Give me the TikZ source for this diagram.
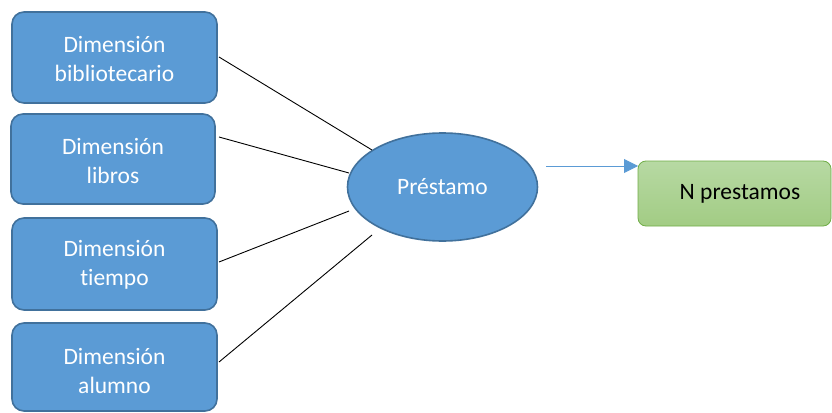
\documentclass[tikz,border=0pt]{standalone}
\usepackage{fontspec}
\setmainfont[Ligatures=NoCommon]{Carlito}
\usetikzlibrary{shapes.geometric,arrows.meta}
\definecolor{dimfill}{HTML}{5B9BD5}
\definecolor{dimline}{HTML}{41719C}
\definecolor{grtop}{HTML}{B7D9A3}
\definecolor{grbot}{HTML}{A2CC84}
\definecolor{grline}{HTML}{70AD47}
\begin{document}
\begin{tikzpicture}[x=1pt,y=-1pt,
  dimbox/.style={draw=dimline,line width=1.6pt,fill=dimfill,rounded corners=12pt},
  dimtext/.style={text=white,align=center,font=\fontsize{23.5}{29.5}\selectfont},
  hub/.style={ellipse,draw=dimline,line width=1.6pt,fill=dimfill,text=white,
    font=\fontsize{23.5}{28}\selectfont,minimum width=190pt,minimum height=108pt,inner sep=0pt},
  factbox/.style={draw=grline,line width=0.8pt,top color=grtop,bottom color=grbot,
    rounded corners=8pt},
  facttext/.style={font=\fontsize{23.5}{28}\selectfont},
  link/.style={line width=0.9pt,black},
  flow/.style={line width=0.9pt,draw=dimfill,-{Triangle[length=14pt,width=14pt,fill=dimfill]}}]
\useasboundingbox (0,0) rectangle (832,412);
% dimension boxes
\draw[dimbox] (12,12) rectangle (217,103);
\node[dimtext] (d1) at (114.5,59) {Dimensión\\bibliotecario};
\draw[dimbox] (11,114) rectangle (215,204);
\node[dimtext] (d2) at (113,161) {Dimensión\\libros};
\draw[dimbox] (12,218) rectangle (217,310);
\node[dimtext] (d3) at (114.5,265) {Dimensión\\tiempo};
\draw[dimbox] (12,323) rectangle (217,411);
\node[dimtext] (d4) at (114.5,371) {Dimensión\\alumno};
% coordinates on the right edges of the boxes
\coordinate (e1) at (219,57);
\coordinate (e2) at (219,137);
\coordinate (e3) at (219,262);
\coordinate (e4) at (219,362);
% central ellipse
\node[hub] (p) at (442.5,187) {Préstamo};
\coordinate (p1) at (372,150);
\coordinate (p2) at (349,173);
\coordinate (p3) at (349,211);
\coordinate (p4) at (372,235);
\draw[link] (e1) -- (p1);
\draw[link] (e2) -- (p2);
\draw[link] (e3) -- (p3);
\draw[link] (e4) -- (p4);
% result box
\draw[factbox] (638,161) rectangle (831,226);
\node[facttext] (n) at (740,194) {N prestamos};
\coordinate (a0) at (546,166);
\coordinate (a1) at (638,166);
\draw[flow] (a0) -- (a1);
\end{tikzpicture}
\end{document}
